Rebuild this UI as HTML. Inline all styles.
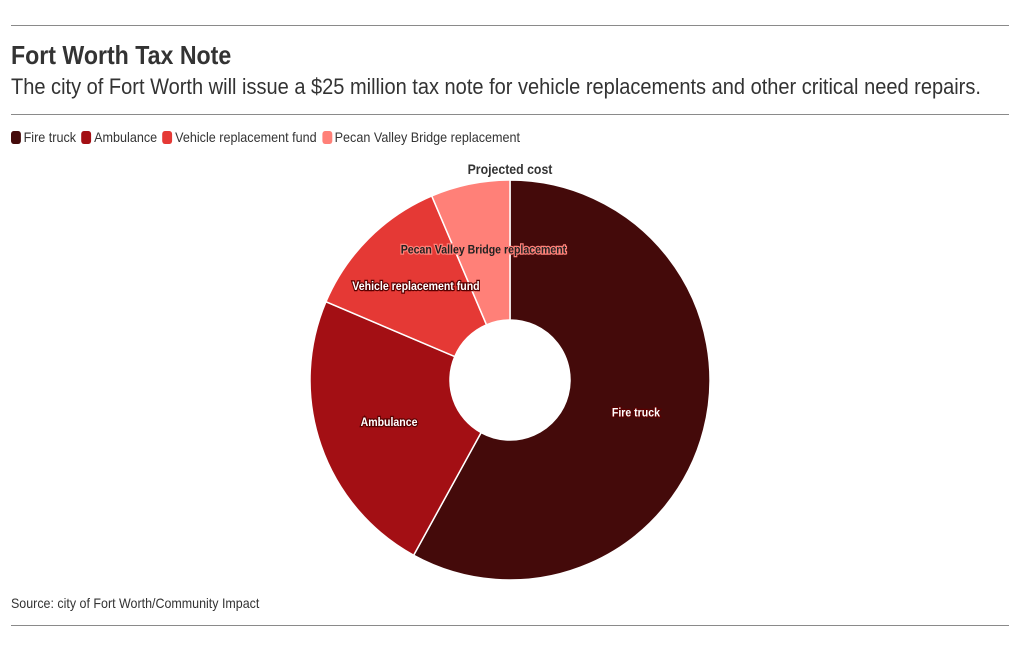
<!DOCTYPE html>
<html><head><meta charset="utf-8"><style>
body{margin:0;width:1020px;height:650px;background:#fff;font-family:"Liberation Sans",sans-serif;color:#333;position:relative;overflow:hidden}
.rule{position:absolute;left:11px;width:998px;height:1px;background:#8a8a8a}
.t{position:absolute;left:11px;white-space:nowrap;transform:scaleX(0.89);transform-origin:0 0}
.leg{position:absolute;top:129px;left:11px;font-size:14px;display:flex;gap:6px;align-items:center;transform:scaleX(0.9);transform-origin:0 0;white-space:nowrap}
.leg span{display:flex;align-items:center}
.sw{display:inline-block;width:11px;height:13px;border-radius:3px;margin-right:3px}
</style></head><body>
<div class="rule" style="top:25px"></div>
<div class="t" style="top:40px;font-size:26px;font-weight:bold">Fort Worth Tax Note</div>
<div class="t" style="top:74px;font-size:22px;transform:scaleX(0.91)">The city of Fort Worth will issue a $25 million tax note for vehicle replacements and other critical need repairs.</div>
<div class="rule" style="top:114px"></div>
<div class="leg">
<span><i class="sw" style="background:#440a0a"></i>Fire truck</span>
<span><i class="sw" style="background:#a30f14"></i>Ambulance</span>
<span><i class="sw" style="background:#e53935"></i>Vehicle replacement fund</span>
<span><i class="sw" style="background:#ff8078"></i>Pecan Valley Bridge replacement</span>
</div>
<svg id="chart" width="1020" height="650" style="position:absolute;left:0;top:0">
<text transform="translate(510,174) scale(0.88,1)" text-anchor="middle" font-size="14" font-weight="bold" fill="#333">Projected cost</text>
</svg>
<div class="t" style="top:595px;font-size:14px">Source: city of Fort Worth/Community Impact</div>
<div class="rule" style="top:625px"></div>
<script>
const categories=["Fire truck","Ambulance","Vehicle replacement fund","Pecan Valley Bridge replacement"];
const values=[14.5,5.85,3.05,1.6];
const colors=["#440a0a","#a30f14","#e53935","#ff8078"];
const svg=document.getElementById('chart');
const NS="http://www.w3.org/2000/svg";
const cx=510,cy=380,R=200,r=60;
const total=values.reduce((a,b)=>a+b,0);
function pt(a,rad){return [cx+rad*Math.sin(a),cy-rad*Math.cos(a)];}
let a0=0;
const labelR=[130,128,133,133];
values.forEach((v,i)=>{
  const a1=a0+v/total*2*Math.PI;
  const big=(a1-a0)>Math.PI?1:0;
  const [x0,y0]=pt(a0,R),[x1,y1]=pt(a1,R),[x2,y2]=pt(a1,r),[x3,y3]=pt(a0,r);
  const p=document.createElementNS(NS,'path');
  p.setAttribute('d',`M${x0},${y0}A${R},${R} 0 ${big} 1 ${x1},${y1}L${x2},${y2}A${r},${r} 0 ${big} 0 ${x3},${y3}Z`);
  p.setAttribute('fill',colors[i]);p.setAttribute('stroke','#fff');p.setAttribute('stroke-width','1.5');
  
  
  svg.appendChild(p);
  a0=a1;
});
a0=0;
values.forEach((v,i)=>{
  const a1=a0+v/total*2*Math.PI;
  const [lx,ly]=pt((a0+a1)/2,labelR[i]);
  const t=document.createElementNS(NS,'text');
  t.setAttribute('transform',`translate(${lx},${ly+4}) scale(0.88,1)`);
  t.setAttribute('text-anchor','middle');
  t.setAttribute('font-size','12');t.setAttribute('font-weight','bold');
  t.setAttribute('fill',i===3?'#222':'#fff');
  t.setAttribute('stroke',i===3?'#ff8078':'#5a0000');t.setAttribute('stroke-width','2.5');t.setAttribute('paint-order','stroke');
  t.textContent=categories[i];
  
  
  svg.appendChild(t);
  a0=a1;
});
</script>
</body></html>
